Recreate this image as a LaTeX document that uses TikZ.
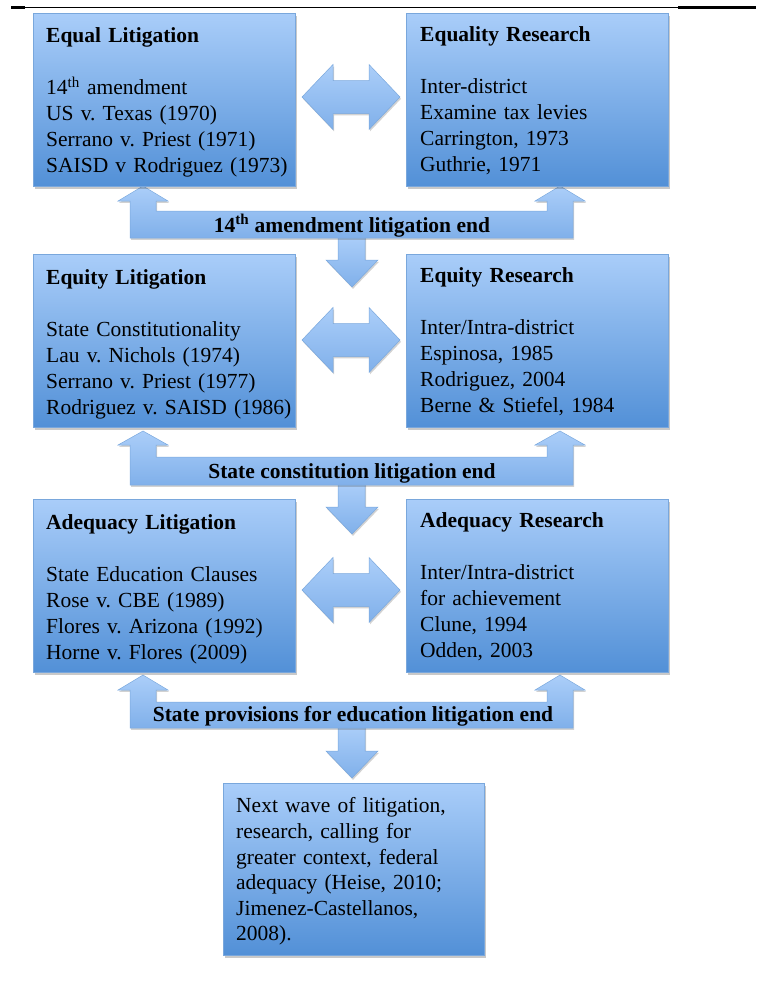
\documentclass[tikz,border=0pt]{standalone}
\usepackage{fontspec}
\setmainfont{Liberation Serif}
\usetikzlibrary{shadows}
\frenchspacing
\definecolor{boxtop}{HTML}{A9CDF9}
\definecolor{boxbot}{HTML}{5290D7}
\definecolor{boxedge}{HTML}{79A7DC}
\definecolor{arrtop}{HTML}{ABCEF9}
\definecolor{arrbot}{HTML}{80B0EA}
\definecolor{arredge}{HTML}{7AA8DD}
\newcommand{\ubararrow}[4]{% tip y, head base y, bar top y, bar bottom y
  \path[blockarrow] (143,#1) -- (168,#2) -- (156,#2) -- (156,#3) -- (547,#3) -- (547,#2) -- (535,#2)
    -- (560,#1) -- (585,#2) -- (573,#2) -- (573,#4) -- (130,#4) -- (130,#2) -- (118,#2) -- cycle;}
\newcommand{\downblock}[2]{% start y, tip y
  \path[blockarrow] (338,#1) -- (365,#1) -- (365,#2-27) -- (378,#2-27) -- (352,#2) -- (326,#2-27) -- (338,#2-27) -- cycle;}
\newcommand{\dblblock}[1]{% centre y
  \path[blockarrow] (302,#1) -- (333,#1-32.5) -- (333,#1-16.5) -- (369,#1-16.5) -- (369,#1-32.5) -- (400,#1)
    -- (369,#1+32.5) -- (369,#1+16.5) -- (333,#1+16.5) -- (333,#1+32.5) -- cycle;}
\begin{document}
\begin{tikzpicture}[x=1pt,y=-1pt,
  boxshape/.style={draw=boxedge, line width=0.6pt, top color=boxtop, bottom color=boxbot,
    minimum width=262pt, minimum height=173pt, anchor=north west, inner sep=0pt,
    drop shadow={shadow xshift=1.2pt, shadow yshift=-2.2pt, opacity=0.3, fill=black!70}},
  boxtext/.style={anchor=north west, inner sep=0pt, align=left, text width=250pt,
    font=\fontsize{21.5}{26}\selectfont},
  bartext/.style={anchor=base, inner sep=0pt, font=\fontsize{21.5}{26}\selectfont\bfseries},
  blockarrow/.style={draw=arredge, line width=0.5pt, top color=arrtop, bottom color=arrbot,
    drop shadow={shadow xshift=1pt, shadow yshift=-1.8pt, opacity=0.25, fill=black!70}}
]
\useasboundingbox (0,0) rectangle (756,993);
% top rule
\draw[line width=0.7pt] (11,7) -- (756,7);
\fill (11,6) rectangle (25,8.8);
\fill (678,6) rectangle (756,9);

% block arrows
\downblock{236}{287}
\downblock{483}{534}
\downblock{726}{778}
\ubararrow{186}{201}{211}{238}
\ubararrow{431}{445}{457}{485}
\ubararrow{675}{690}{702}{728}
\dblblock{97}
\dblblock{340}
\dblblock{590}

\node[bartext] (bar1) at (352,232) {14\textsuperscript{th} amendment litigation end};
\node[bartext] (bar2) at (352,478) {State constitution litigation end};
\node[bartext] (bar3) at (353,721) {State provisions for education litigation end};

% boxes
\node[boxshape] (b1) at (33,13) {};
\node[boxshape] (b2) at (406,13) {};
\node[boxshape] (b3) at (33,254) {};
\node[boxshape] (b4) at (406,254) {};
\node[boxshape] (b5) at (33,499) {};
\node[boxshape] (b6) at (406,499) {};
\node[boxshape, minimum width=261pt, minimum height=172pt] (b7) at (223,783) {};

\node[boxtext] (t1) at (46,27.5) {\textbf{Equal Litigation}\\[26pt]
  14\textsuperscript{th} amendment\\US v. Texas (1970)\\Serrano v. Priest (1971)\\SAISD v Rodriguez (1973)};
\node[boxtext] (t2) at (420,26) {\textbf{Equality Research}\\[26pt]
  Inter-district\\Examine tax levies\\Carrington, 1973\\Guthrie, 1971};
\node[boxtext] (t3) at (46,269) {\textbf{Equity Litigation}\\[26pt]
  State Constitutionality\\Lau v. Nichols (1974)\\Serrano v. Priest (1977)\\Rodriguez v. SAISD (1986)};
\node[boxtext] (t4) at (420,267.5) {\textbf{Equity Research}\\[26pt]
  Inter/Intra-district\\Espinosa, 1985\\Rodriguez, 2004\\Berne \& Stiefel, 1984};
\node[boxtext] (t5) at (46,514) {\textbf{Adequacy Litigation}\\[26pt]
  State Education Clauses\\Rose v. CBE (1989)\\Flores v. Arizona (1992)\\Horne v. Flores (2009)};
\node[boxtext] (t6) at (420,512.5) {\textbf{Adequacy Research}\\[26pt]
  Inter/Intra-district\\for achievement\\Clune, 1994\\Odden, 2003};
\node[boxtext, font=\fontsize{21.5}{25.6}\selectfont] (t7) at (236,797.5) {Next wave of litigation,\\
  research, calling for\\greater context, federal\\adequacy (Heise, 2010;\\Jimenez-Castellanos,\\2008).};
\end{tikzpicture}
\end{document}
